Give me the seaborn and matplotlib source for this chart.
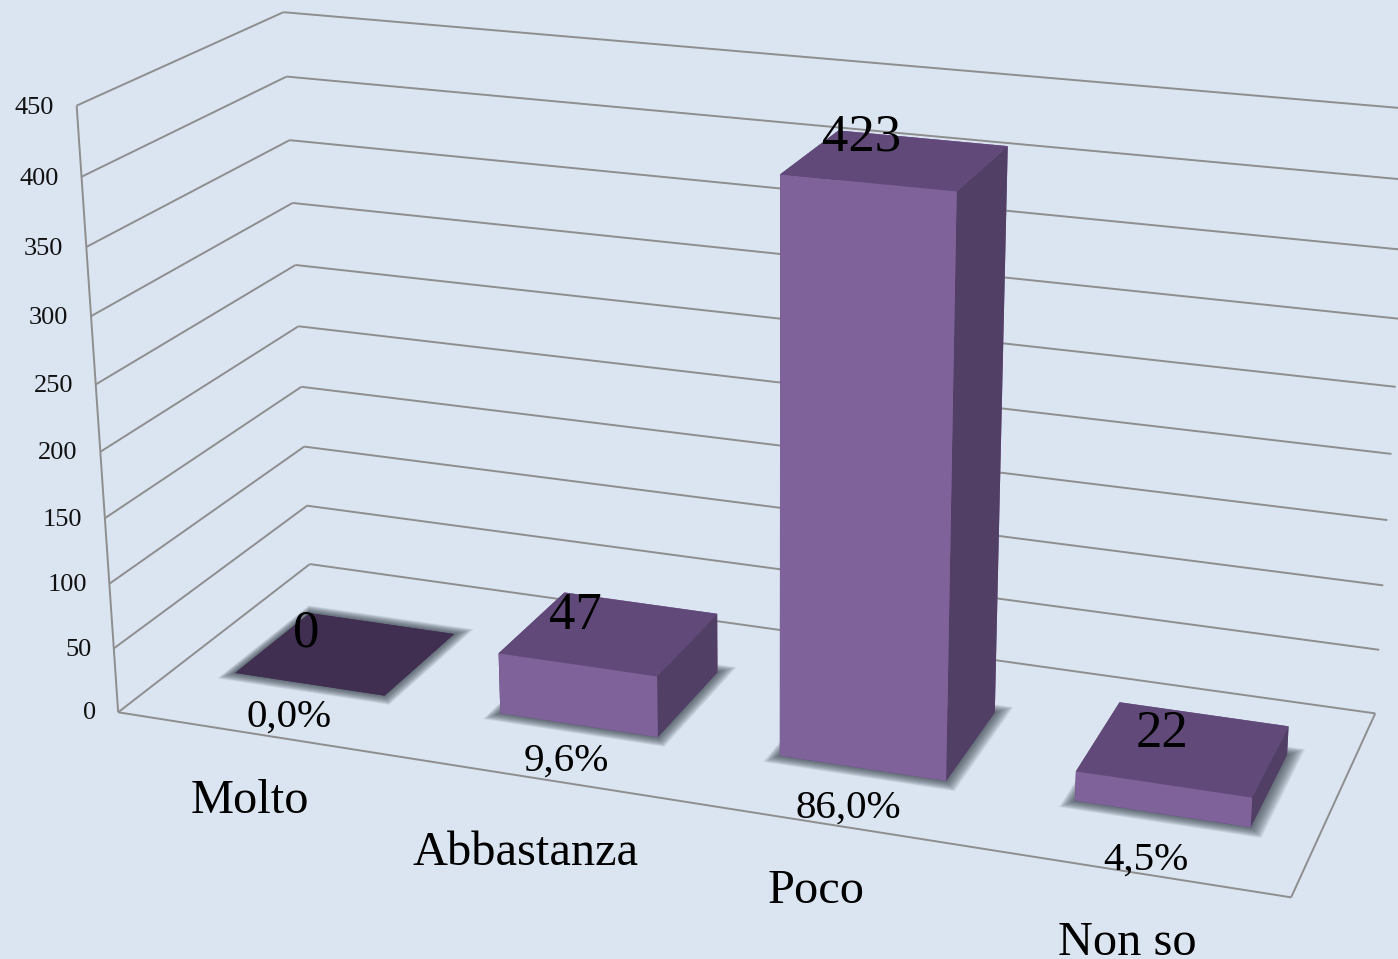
"""3D column chart of the survey answers, drawn with a fitted perspective camera."""

import matplotlib

matplotlib.use("Agg")

import matplotlib.pyplot as plt
import numpy as np
import seaborn as sns
from mpl_toolkits.mplot3d.art3d import Line3DCollection, Poly3DCollection

CATEGORIES = ["Molto", "Abbastanza", "Poco", "Non so"]
COUNTS = [0, 47, 423, 22]
PERCENTS = ["0,0%", "9,6%", "86,0%", "4,5%"]
Z_TICKS = [0, 50, 100, 150, 200, 250, 300, 350, 400, 450]

# label nudges, in data units
CATEGORY_LABEL_X = [0.739, 1.712, 2.637, 3.605]
CATEGORY_LABEL_Y = [-0.325, -0.355, -0.31, -0.315]
COUNT_LABEL_DX = [-0.213, -0.167, -0.187, -0.092]
COUNT_LABEL_Y = [0.58, 0.57, 0.66, 0.56]
PERCENT_LABEL_DX = [0.559, 0.572, 0.552, 0.528]
PERCENT_LABEL_Y = [0.11, 0.105, 0.09, 0.065]

BACKGROUND = "#DBE5F1"
GRID = "#8E8E8E"
FRONT = "#7F6299"
TOP = "#614A7A"
SIDE = "#523F66"
EMPTY_TOP = "#412F52"
SHADOW = "#3A4550"

WIDTH, HEIGHT = 1398, 959
BAR_WIDTH = 0.57
BAR_Y0, BAR_Y1 = 0.30, 0.70

# reference points of the box: world (category, depth, value) -> picture pixel
CAMERA_WORLD = np.array([
    [0, 0, 0], [4, 0, 0], [4, 1, 0], [0, 1, 0],
    [0, 0, 450], [0, 1, 450], [4, 1, 450],
    [2.215, 0.3, 423], [2.785, 0.3, 423], [2.785, 0.7, 423],
], dtype=float)
CAMERA_PIXELS = np.array([
    [118, 711], [1290, 898], [1376, 714], [310, 564],
    [76, 105], [283, 13], [1411, 106],
    [781, 176], [958, 191], [1009, 148],
], dtype=float)


def fit_camera(world, pixels):
    """Direct linear fit of a 4x4 projection that mplot3d can use as its M."""
    scale_world = np.array([4.0, 1.0, 450.0])
    rows = []
    for (x, y, z), (u, v) in zip(world / scale_world, pixels / 1000.0):
        rows.append([x, y, z, 1, 0, 0, 0, 0, -u * x, -u * y, -u * z, -u])
        rows.append([0, 0, 0, 0, x, y, z, 1, -v * x, -v * y, -v * z, -v])
    camera = np.linalg.svd(np.array(rows))[2][-1].reshape(3, 4)
    camera = camera @ np.diag([*(1.0 / scale_world), 1.0])
    camera[:2] *= 1000.0
    camera /= camera[2] @ np.array([2.0, 0.5, 0.0, 1.0])
    # third row gives a depth value that grows away from the viewer
    return np.vstack([camera[0], camera[1], [0, 0, 0, -1.0], camera[2]])


def draw_shadow(ax, x0, x1):
    for pad in np.linspace(0.06, 0.002, 20):
        corners = [
            (x0 - pad * 0.6, BAR_Y0 - pad * 0.75, 0),
            (x1 + pad * 0.8, BAR_Y0 - pad * 0.75, 0),
            (x1 + pad * 0.8, BAR_Y1 + pad * 0.75, 0),
            (x0 - pad * 0.6, BAR_Y1 + pad * 0.75, 0),
        ]
        ax.add_collection3d(
            Poly3DCollection(
                [corners],
                facecolors=SHADOW,
                edgecolors="none",
                alpha=0.06,
                zorder=2,
            )
        )


def place_label(fig, projection, x, y, z, text, **kwargs):
    """Put a plain figure text at the picture position of a data point."""
    u, v, _, w = projection @ np.array([x, y, z, 1.0])
    fig.text(u / w / WIDTH, 1 - v / w / HEIGHT, text, va="center", **kwargs)


sns.set_theme(style="white")
plt.rcParams["font.family"] = ["Liberation Serif", "DejaVu Serif"]

fig = plt.figure(figsize=(WIDTH / 100, HEIGHT / 100), dpi=100, facecolor=BACKGROUND)
# Axes3D forces a square box, so use one wider than the figure is tall
margin = (WIDTH - HEIGHT) / 2
ax = fig.add_axes(
    [0, -margin / HEIGHT, 1, WIDTH / HEIGHT],
    projection="3d",
    computed_zorder=False,
)
ax.set_axis_off()
ax.set_xticks([])
ax.set_yticks([])
ax.set_zticks([])
ax.patch.set_facecolor(BACKGROUND)
ax.viewLim.intervalx = (0, WIDTH)
ax.viewLim.intervaly = (HEIGHT + margin, -margin)
projection = fit_camera(CAMERA_WORLD, CAMERA_PIXELS)
ax.get_proj = lambda: projection

grid_lines = [[(0, 0, 0), (0, 0, Z_TICKS[-1])], [(0, 0, 0), (4, 0, 0)], [(4, 0, 0), (4, 1, 0)]]
for tick in Z_TICKS:
    grid_lines.append([(0, 0, tick), (0, 1, tick)])
    grid_lines.append([(0, 1, tick), (4, 1, tick)])
    place_label(
        fig, projection, -0.085, 0, tick - 3.5, str(tick),
        ha="right", fontsize=19, color="#111111",
    )
ax.add_collection3d(
    Line3DCollection(grid_lines, colors=GRID, linewidths=1.4, zorder=1)
)

for i, (name, count, percent) in enumerate(zip(CATEGORIES, COUNTS, PERCENTS)):
    x0 = i + 0.5 - BAR_WIDTH / 2
    draw_shadow(ax, x0, x0 + BAR_WIDTH)
    top = TOP if count else EMPTY_TOP
    # bar3d face order: -z, +z, -y, +y, -x, +x
    ax.bar3d(
        x0, BAR_Y0, 0, BAR_WIDTH, BAR_Y1 - BAR_Y0, count,
        color=[top, top, FRONT, FRONT, SIDE, SIDE],
        shade=False,
        edgecolor="none",
        zorder=3 + i * 0.01,
    )
    place_label(
        fig, projection, i + 0.5 + COUNT_LABEL_DX[i], COUNT_LABEL_Y[i], count, str(count),
        ha="center", fontsize=38, color="black",
    )
    place_label(
        fig, projection, i + PERCENT_LABEL_DX[i], PERCENT_LABEL_Y[i], 0, percent,
        ha="center", fontsize=29.5, color="black",
    )
    place_label(
        fig, projection, CATEGORY_LABEL_X[i], CATEGORY_LABEL_Y[i], 0, name,
        ha="center", fontsize=34.8, color="black",
    )

fig.savefig("out.png", dpi=100, facecolor=BACKGROUND)
